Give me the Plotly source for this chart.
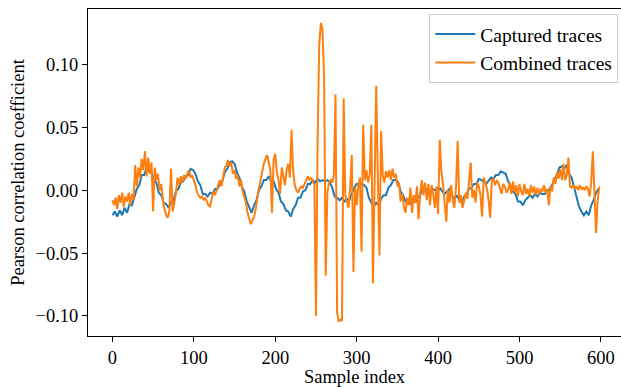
import plotly.graph_objects as go

# ---- data ----
captured_step = 3
captured_values = [
    -0.020, -0.017, -0.021, -0.016, -0.020, -0.014, -0.018, -0.011, -0.012, -0.005,
    0.001, 0.004, 0.012, 0.012, 0.018, 0.015, 0.014, 0.009, 0.006, -0.002,
    -0.004, -0.010, -0.011, -0.014, -0.010, -0.008, -0.001, 0.001, 0.006, 0.007,
    0.011, 0.012, 0.017, 0.016, 0.013, 0.007, 0.004, -0.003, -0.003, -0.005,
    -0.002, -0.003, 0.001, 0.001, 0.005, 0.007, 0.014, 0.017, 0.022, 0.023,
    0.021, 0.014, 0.010, 0.003, -0.001, -0.009, -0.013, -0.018, -0.012, -0.008,
    0.000, 0.003, 0.008, 0.008, 0.011, 0.007, 0.007, 0.001, -0.002, -0.009,
    -0.011, -0.016, -0.017, -0.021, -0.015, -0.012, -0.006, -0.006, -0.001, 0.000,
    0.005, 0.005, 0.008, 0.006, 0.009, 0.007, 0.008, 0.007, 0.008, 0.006,
    0.002, -0.005, -0.006, -0.008, -0.006, -0.009, -0.007, -0.008, -0.003, 0.002,
    0.005, 0.004, 0.005, 0.004, 0.002, -0.006, -0.010, -0.013, -0.010, -0.012,
    -0.007, -0.004, -0.004, 0.002, 0.004, 0.008, 0.008, 0.006, -0.001, -0.004,
    -0.009, -0.010, -0.011, -0.007, -0.010, -0.006, -0.004, 0.001, 0.001, -0.001,
    -0.003, 0.001, 0.000, -0.002, 0.002, -0.001, -0.003, -0.001, 0.001, -0.004,
    -0.007, -0.004, -0.008, -0.010, -0.005, -0.003, 0.001, 0.002, 0.005, 0.005,
    0.009, 0.008, 0.007, 0.005, 0.008, 0.010, 0.009, 0.012, 0.012, 0.015,
    0.014, 0.013, 0.007, 0.004, -0.001, -0.003, -0.009, -0.009, -0.012, -0.008,
    -0.006, -0.004, -0.006, -0.003, -0.005, -0.002, -0.003, -0.003, -0.001, 0.001,
    0.004, 0.009, 0.012, 0.018, 0.019, 0.017, 0.020, 0.013, 0.010, 0.002,
    -0.004, -0.013, -0.017, -0.020, -0.017, -0.020, -0.012, -0.008, -0.002, 0.001,
]

combined_step = 2
combined_values = [
    -0.008, -0.012, -0.006, -0.015, -0.004, -0.010, -0.002, -0.013, -0.005, -0.009,
    -0.002, -0.012, -0.003, -0.008, 0.020, 0.003, 0.018, 0.010, 0.025, 0.016,
    0.031, 0.011, 0.026, 0.013, 0.022, -0.017, 0.018, 0.008, 0.013, 0.000,
    0.005, -0.008, -0.015, -0.020, -0.022, -0.016, 0.017, -0.017, -0.010, -0.003,
    0.010, 0.004, 0.011, 0.006, 0.012, 0.009, 0.013, 0.016, 0.010, 0.012,
    0.008, 0.004, -0.002, -0.004, -0.006, -0.005, -0.008, -0.006, -0.009, -0.012,
    -0.013, -0.006, -0.001, -0.004, 0.000, 0.004, 0.008, 0.003, 0.012, 0.018,
    0.020, 0.024, 0.019, 0.022, 0.013, 0.016, 0.009, 0.012, 0.003, 0.008,
    -0.001, -0.006, -0.010, -0.018, -0.023, -0.027, -0.024, -0.021, -0.015, -0.005,
    0.002, 0.008, 0.015, 0.021, 0.025, 0.028, 0.022, 0.016, -0.018, 0.024,
    0.029, 0.014, 0.008, -0.003, 0.018, 0.012, 0.004, 0.016, 0.021, 0.010,
    0.048, 0.015, 0.004, 0.000, -0.002, 0.001, 0.003, 0.002, 0.005, 0.009,
    0.011, 0.008, 0.010, 0.007, 0.005, -0.100, 0.040, 0.115, 0.133, 0.128,
    0.090, -0.068, -0.002, 0.006, 0.008, 0.006, 0.012, 0.076, -0.098, -0.104,
    -0.103, -0.104, 0.073, -0.004, -0.010, -0.014, 0.002, 0.028, -0.065, 0.002,
    -0.012, 0.004, 0.010, -0.049, 0.052, 0.008, 0.016, 0.006, 0.013, 0.052,
    -0.074, 0.006, 0.083, 0.010, -0.052, 0.047, 0.012, 0.006, 0.015, 0.010,
    0.016, 0.008, 0.017, 0.010, 0.013, 0.003, 0.006, -0.009, -0.003, -0.013,
    -0.018, -0.006, -0.012, 0.002, -0.018, -0.004, -0.010, 0.003, -0.023, -0.003,
    0.008, -0.004, 0.006, -0.008, 0.005, -0.012, 0.004, -0.003, -0.014, 0.003,
    -0.019, 0.040, 0.015, 0.005, -0.008, -0.025, 0.000, -0.010, 0.004, -0.008,
    -0.014, 0.002, 0.039, -0.010, -0.004, -0.014, -0.008, -0.002, -0.007, 0.005,
    0.022, -0.006, 0.000, -0.010, 0.006, 0.003, -0.004, -0.021, 0.010, 0.006,
    0.001, -0.008, -0.022, 0.008, 0.009, 0.004, 0.008, 0.006, 0.002, -0.003,
    0.005, 0.003, -0.002, 0.000, 0.006, -0.003, 0.007, -0.002, 0.004, -0.005,
    0.005, -0.001, -0.004, 0.005, -0.003, 0.001, -0.005, 0.004, -0.002, 0.003,
    -0.004, 0.002, -0.003, 0.001, -0.001, 0.004, -0.002, 0.001, -0.012, 0.003,
    -0.001, 0.010, 0.005, 0.014, 0.009, 0.017, 0.008, 0.021, 0.008, 0.012,
    0.026, 0.003, 0.002, 0.004, 0.001, 0.003, 0.000, 0.004, 0.001, 0.002,
    0.000, 0.003, 0.001, -0.005, 0.006, 0.031, -0.002, -0.034, -0.008, 0.003,
]

captured_x = list(range(0, captured_step * len(captured_values), captured_step))
combined_x = list(range(0, combined_step * len(combined_values), combined_step))

x_ticks = [0, 100, 200, 300, 400, 500, 600]
y_ticks = [-0.10, -0.05, 0.00, 0.05, 0.10]

FONT = "Liberation Serif"

fig = go.Figure()
fig.add_trace(go.Scatter(x=captured_x, y=captured_values, mode="lines",
                         name="Captured traces",
                         line=dict(color="#1f77b4", width=2)))
fig.add_trace(go.Scatter(x=combined_x, y=combined_values, mode="lines",
                         name="Combined traces",
                         line=dict(color="#ff7f0e", width=2)))

fig.update_layout(
    width=621, height=387,
    margin=dict(l=88, r=0, t=9, b=45),
    paper_bgcolor="white", plot_bgcolor="white",
    font=dict(family=FONT, size=18.5, color="black"),
    showlegend=True,
    legend=dict(x=0.995, y=0.985, xanchor="right", yanchor="top",
                bgcolor="rgba(255,255,255,0.8)", bordercolor="#cccccc", borderwidth=1,
                font=dict(family=FONT, size=19.5), itemwidth=40, tracegroupgap=0),
)
fig.update_xaxes(
    range=[-29.95, 624.6], tickvals=x_ticks, ticks="outside", ticklen=5,
    tickcolor="black", showline=True, linecolor="black", linewidth=1, mirror=True,
    showgrid=False, zeroline=False,
    title=dict(text="Sample index", standoff=6, font=dict(family=FONT, size=18.5)),
)
fig.update_yaxes(
    range=[-0.1160, 0.1441], tickvals=y_ticks, tickformat=".2f", ticks="outside",
    ticklen=5, tickcolor="black", showline=True, linecolor="black", linewidth=1,
    mirror=False, showgrid=False, zeroline=False,
    title=dict(text="Pearson correlation coefficient", standoff=6,
               font=dict(family=FONT, size=18.5)),
)

fig.write_html("out.html")
